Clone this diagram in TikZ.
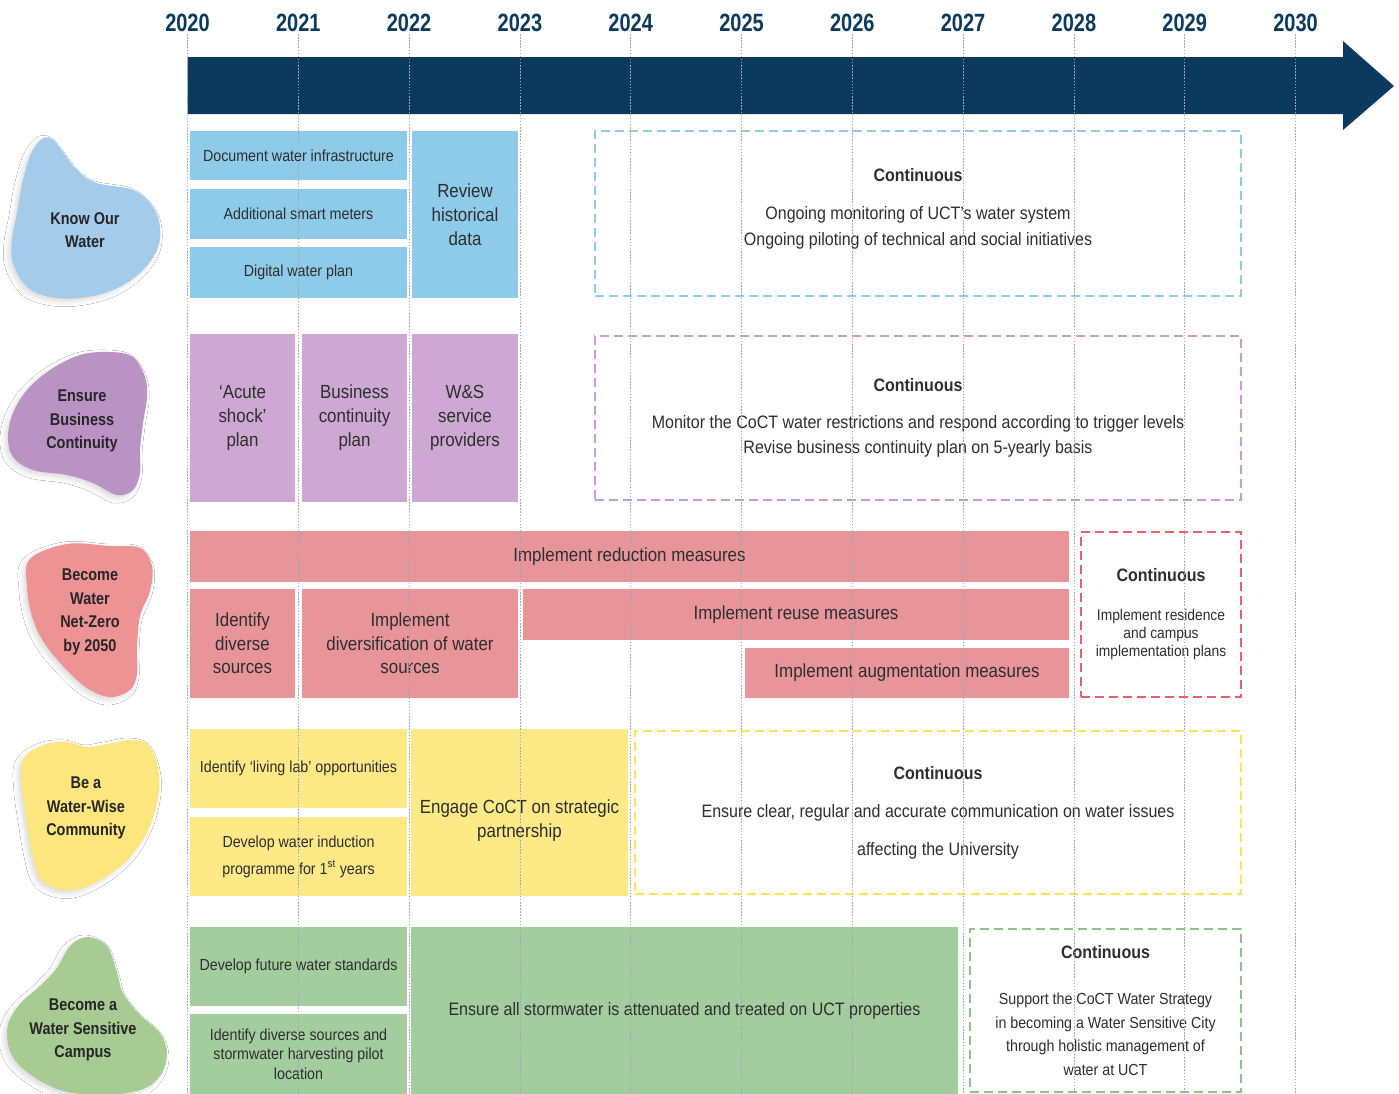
\documentclass[tikz,border=0pt]{standalone}
\usepackage{fontspec}
\setmainfont{Liberation Sans}[FakeStretch=0.89]
\newfontfamily\bodyf{Liberation Sans}[FakeStretch=0.89]
\newfontfamily\blobf{Liberation Sans}[FakeStretch=0.85]
\newfontfamily\yearf{Liberation Sans}[FakeStretch=0.8]
\usetikzlibrary{shadows.blur}
\definecolor{navy}{HTML}{0C3A5F}
\definecolor{txt}{HTML}{2E2E2E}
\definecolor{gridc}{HTML}{9AA8C4}
\definecolor{bluebox}{HTML}{8DCBE9}
\definecolor{blueblob}{HTML}{A5CBEB}
\definecolor{bluedash}{HTML}{8DCBE9}
\definecolor{purplebox}{HTML}{CCA8D2}
\definecolor{purpleblob}{HTML}{BA93C5}
\definecolor{purpledash}{HTML}{C99BD8}
\definecolor{redbox}{HTML}{E8959A}
\definecolor{redblob}{HTML}{EE9393}
\definecolor{reddash}{HTML}{E8606A}
\definecolor{yellowbox}{HTML}{FDE985}
\definecolor{yellowblob}{HTML}{FDE67E}
\definecolor{yellowdash}{HTML}{FCE35A}
\definecolor{greenbox}{HTML}{A3CD9F}
\definecolor{greenblob}{HTML}{A8CB93}
\definecolor{greendash}{HTML}{8FC28A}
\tikzset{
  box/.style={anchor=north west, inner sep=2pt, outer sep=0pt, align=center,
    text=txt, font=\bodyf\fontsize{16}{19}\selectfont},
  bigtxt/.style={font=\bodyf\fontsize{19}{24}\selectfont},
  dbox/.style={box, draw, line width=1.3pt, dash pattern=on 9pt off 5pt},
  yearlbl/.style={text=navy, font=\yearf\bfseries\fontsize{25}{28}\selectfont, inner sep=2pt},
  gridline/.style={draw=gridc, line width=0.8pt, dash pattern=on 1.5pt off 1.6pt},
  blobtxt/.style={align=center, text=black!85, font=\blobf\bfseries\fontsize{17}{23.5}\selectfont},
  blobshadow/.style={blur shadow={shadow xshift=-3pt, shadow yshift=-3pt,
    shadow blur radius=5pt, shadow opacity=14}},
}
\newcommand{\contt}{{\bfseries\fontsize{18}{22}\selectfont Continuous}}
\begin{document}
\begin{tikzpicture}[x=1pt,y=-1pt]
\useasboundingbox (0,0) rectangle (1399,1093);
\fill[white] (0,0) rectangle (1399,1093);

% ---- blobs ----
\fill[blueblob, blobshadow] plot[smooth cycle, tension=0.6] coordinates {
 (50,138) (77,170) (97,183) (133,190) (153,207) (160,227) (157,250) (140,273)
 (113,290) (80,298) (50,297) (27,287) (13,263) (12,240) (17,213) (23,180) (33,150)};
\fill[purpleblob, blobshadow] plot[smooth cycle, tension=0.6] coordinates {
 (110,352) (133,357) (145,377) (147,397) (143,423) (140,450) (140,473) (133,490)
 (117,495) (93,483) (67,475) (33,470) (13,457) (8,437) (13,413) (27,390) (50,370) (80,355)};
\fill[redblob, blobshadow] plot[smooth cycle, tension=0.6] coordinates {
 (30,559) (67,544) (110,546) (140,548) (152,566) (150,591) (140,616) (137,648)
 (137,674) (130,690) (110,697) (87,688) (63,666) (43,641) (32,616) (27,587)};
\fill[yellowblob, blobshadow] plot[smooth cycle, tension=0.6] coordinates {
 (23,760) (43,745) (67,742) (87,747) (107,744) (133,740) (150,747) (159,774)
 (157,803) (147,832) (130,857) (107,876) (80,889) (57,889) (40,878) (32,853)
 (27,824) (22,789)};
\fill[greenblob, blobshadow] plot[smooth cycle, tension=0.6] coordinates {
 (87,937) (107,946) (117,972) (123,993) (140,1015) (160,1033) (167,1054) (160,1076)
 (140,1090) (100,1095) (60,1090) (27,1072) (10,1051) (8,1025) (20,1004) (40,986)
 (57,968) (70,946)};

\node[blobtxt] (bKnow) at (85,230) {Know Our\\Water};
\node[blobtxt] (bEnsure) at (82,421) {Ensure\\Business\\Continuity};
\node[blobtxt] (bNet) at (90,612) {Become\\Water\\Net-Zero\\by 2050};
\node[blobtxt] (bWise) at (86,808) {Be a\\Water-Wise\\Community};
\node[blobtxt] (bCampus) at (83,1030) {Become a\\Water Sensitive\\Campus};

% ---- timeline arrow ----
\fill[navy] (187.5,57) -- (1343,57) -- (1343,41) -- (1394,86) -- (1343,130)
  -- (1343,114) -- (187.5,114) -- cycle;

% ---- row 1: Know our water ----
\node[box, fill=bluebox, minimum width=217pt, minimum height=49pt] (doc) at (190,131) {Document water infrastructure};
\node[box, fill=bluebox, minimum width=217pt, minimum height=50pt] (smart) at (190,189) {Additional smart meters};
\node[box, fill=bluebox, minimum width=217pt, minimum height=51pt] (digital) at (190,247) {Digital water plan};
\node[box, bigtxt, fill=bluebox, minimum width=106pt, minimum height=167pt] (review) at (412,131) {Review\\historical\\data};
\node[dbox, draw=bluedash, font=\bodyf\fontsize{18}{26}\selectfont, text depth=14pt, minimum width=646pt, minimum height=165pt] (cont1) at (595,131)
  {\contt\\[12pt]Ongoing monitoring of UCT’s water system\\Ongoing piloting of technical and social initiatives};

% ---- row 2: business continuity ----
\node[box, bigtxt, fill=purplebox, minimum width=105pt, minimum height=168pt] (acute) at (190,334) {‘Acute\\shock’\\plan};
\node[box, bigtxt, fill=purplebox, minimum width=105pt, minimum height=168pt] (bcp) at (302,334) {Business\\continuity\\plan};
\node[box, bigtxt, fill=purplebox, minimum width=106pt, minimum height=168pt] (wsp) at (412,334) {W\&S\\service\\providers};
\node[dbox, draw=purpledash, font=\bodyf\fontsize{18}{25}\selectfont, minimum width=646pt, minimum height=164pt] (cont2) at (595,336)
  {\contt\\[12pt]Monitor the CoCT water restrictions and respond according to trigger levels\\Revise business continuity plan on 5-yearly basis};

% ---- row 3: net-zero ----
\node[box, bigtxt, fill=redbox, minimum width=879pt, minimum height=51pt] (reduce) at (190,531) {Implement reduction measures};
\node[box, bigtxt, fill=redbox, minimum width=105pt, minimum height=109pt, font=\bodyf\fontsize{19}{23.5}\selectfont] (identify) at (190,589) {Identify\\diverse\\sources};
\node[box, bigtxt, fill=redbox, minimum width=216pt, minimum height=109pt, font=\bodyf\fontsize{19}{23.5}\selectfont] (divers) at (302,589) {Implement\\diversification of water\\sources};
\node[box, bigtxt, fill=redbox, minimum width=546pt, minimum height=51pt] (reuse) at (523,589) {Implement reuse measures};
\node[box, bigtxt, fill=redbox, minimum width=324pt, minimum height=50pt] (augment) at (745,648) {Implement augmentation measures};
\node[dbox, draw=reddash, font=\bodyf\fontsize{15.5}{18}\selectfont, minimum width=160pt, minimum height=165pt] (cont3) at (1081,532)
  {\contt\\[21pt]Implement residence\\and campus\\implementation plans};

% ---- row 4: water-wise community ----
\node[box, fill=yellowbox, minimum width=217pt, minimum height=79pt] (living) at (190,729) {Identify ‘living lab’ opportunities};
\node[box, fill=yellowbox, minimum width=217pt, minimum height=79pt, font=\bodyf\fontsize{16}{27}\selectfont] (induct) at (190,817) {Develop water induction\\programme for 1\textsuperscript{st} years};
\node[box, bigtxt, fill=yellowbox, text height=54pt, minimum width=217pt, minimum height=167pt] (engage) at (411,729) {Engage CoCT on strategic\\partnership};
\node[dbox, draw=yellowdash, font=\bodyf\fontsize{18}{38}\selectfont, minimum width=606pt, minimum height=163pt] (cont4) at (635,731)
  {\contt\\Ensure clear, regular and accurate communication on water issues\\affecting the University};

% ---- row 5: water sensitive campus ----
\node[box, fill=greenbox, minimum width=217pt, minimum height=79pt] (future) at (190,927) {Develop future water standards};
\node[box, fill=greenbox, minimum width=217pt, minimum height=80pt, font=\bodyf\fontsize{16}{19.5}\selectfont] (idsrc) at (190,1014) {Identify diverse sources and\\stormwater harvesting pilot\\location};
\node[box, fill=greenbox, minimum width=547pt, minimum height=167pt, font=\bodyf\fontsize{18}{22}\selectfont] (storm) at (411,927) {Ensure all stormwater is attenuated and treated on UCT properties};
\node[dbox, draw=greendash, font=\bodyf\fontsize{16}{23.5}\selectfont, minimum width=271pt, minimum height=163pt] (cont5) at (970,929)
  {\contt\\[22.5pt]Support the CoCT Water Strategy\\in becoming a Water Sensitive City\\through holistic management of\\water at UCT};

% ---- years and grid lines ----
\foreach \yr [count=\i from 0] in {2020,2021,2022,2023,2024,2025,2026,2027,2028,2029,2030} {
  \node[yearlbl] (y\yr) at (187.5+110.8*\i, 23) {\yr};
  \draw[gridline] (y\yr.south) -- (y\yr.south |- 0,1093);
}
\end{tikzpicture}
\end{document}
